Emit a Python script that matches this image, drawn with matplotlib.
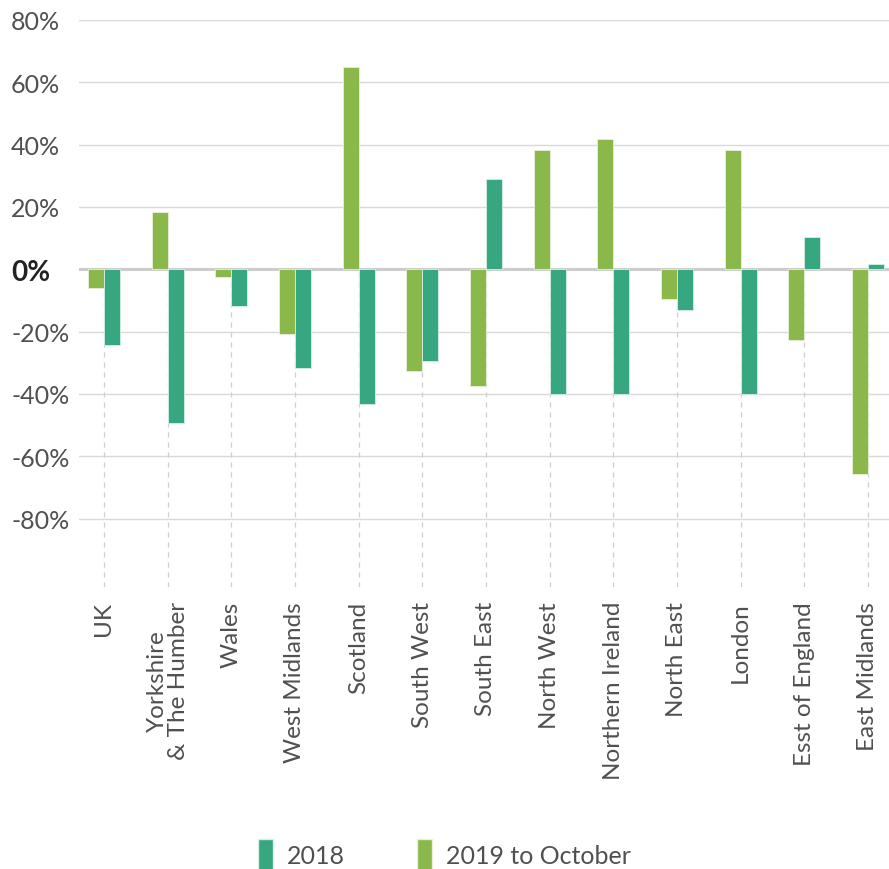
import numpy as np
import matplotlib.pyplot as plt
from matplotlib.patches import Patch

plt.rcParams['font.family'] = ['Lato', 'DejaVu Sans']

regions = ['UK', 'Yorkshire\n& The Humber', 'Wales', 'West Midlands', 'Scotland',
           'South West', 'South East', 'North West', 'Northern Ireland', 'North East',
           'London', 'Esst of England', 'East Midlands']
v2018 = [-24.2, -49.3, -11.7, -31.7, -43.1, -29.6, 28.8, -40.0, -40.0, -13.1, -40.0, 10.2, 1.6]
v2019 = [-5.9, 18.3, -2.5, -20.8, 65.0, -32.5, -37.5, 38.4, 41.9, -9.5, 38.4, -22.6, -65.6]
yticks = [80, 60, 40, 20, 0, -20, -40, -60, -80]

c2018 = '#36a77e'
c2019 = '#8ab84a'
txt = '#505050'

fig = plt.figure(figsize=(8.89, 8.70), dpi=100)
ax = fig.add_axes([0.089, 0.324, 0.911, 0.652])

x = np.arange(len(regions))
w = 0.25

# dashed guides from the bottom up to zero
ax.vlines(x, -102, 0, colors='#cfcfcf', linestyles=(0, (4, 4)), linewidth=0.9, zorder=1)
for t in yticks:
    if t != 0:
        ax.axhline(t, color='#d9d9d9', linewidth=1.0, zorder=0)
ax.axhline(0, color='#cccccc', linewidth=2.2, zorder=2)

ax.bar(x - w / 2, v2019, w, color=c2019, edgecolor='#e8f0dc', linewidth=0.6, zorder=3)
ax.bar(x + w / 2, v2018, w, color=c2018, edgecolor='#d8efe6', linewidth=0.6, zorder=3)

ax.set_xlim(-0.39, 12.33)
ax.set_ylim(-102, 80)
for s in ax.spines.values():
    s.set_visible(False)

ax.set_yticks(yticks)
ax.set_yticklabels([f'{t}%' for t in yticks])
ax.tick_params(axis='y', length=0, pad=49, labelsize=18, labelcolor=txt)
for lab in ax.get_yticklabels():
    lab.set_horizontalalignment('left')
    if lab.get_text() == '0%':
        lab.set_fontweight('bold')
        lab.set_fontsize(20)
        lab.set_color('#222222')

ax.set_xticks(x)
ax.set_xticklabels(regions, rotation=90, fontsize=17.5, color=txt, linespacing=1.0)
ax.tick_params(axis='x', length=0, pad=10)

handles = [Patch(facecolor=c2018, edgecolor='#d8efe6', label='2018'),
           Patch(facecolor=c2019, edgecolor='#e8f0dc', label='2019 to October')]
leg = fig.legend(handles=handles, loc='lower center', bbox_to_anchor=(0.5, -0.028), ncol=2,
                 frameon=False, fontsize=18, handlelength=0.6, handleheight=1.6,
                 columnspacing=2.9, handletextpad=0.55)
for t in leg.get_texts():
    t.set_color(txt)

fig.savefig('out.png', dpi=100)
